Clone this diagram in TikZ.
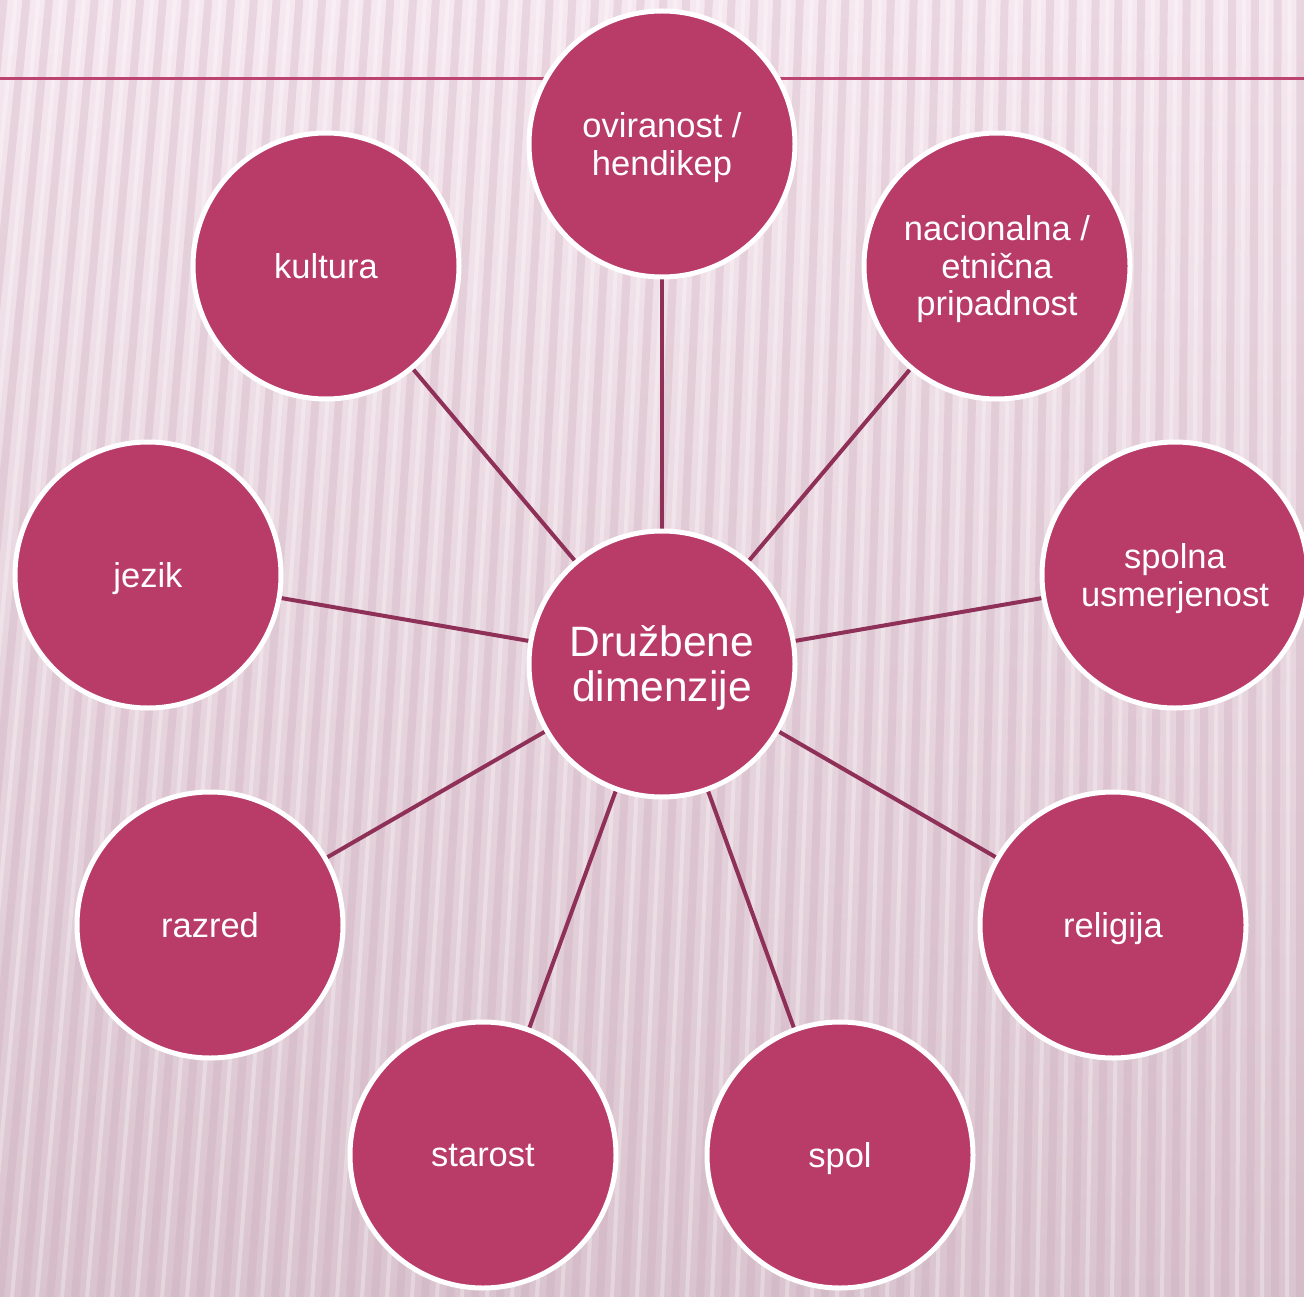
\documentclass[tikz,border=0pt]{standalone}
\usepackage{fontspec}
\setmainfont{Liberation Sans}
\definecolor{bgtop}{HTML}{F6E8EF}
\definecolor{bgmid}{HTML}{F1E0E9}
\definecolor{bgbot}{HTML}{DAC4CF}
\definecolor{stripe}{HTML}{C7A5B6}
\definecolor{circfill}{HTML}{B93C68}
\definecolor{edgecol}{HTML}{8F3059}
\definecolor{rulecol}{HTML}{BE4470}
\pgfdeclarelayer{bg}
\pgfdeclarelayer{edges}
\pgfsetlayers{bg,edges,main}
\tikzset{
  dim/.style={circle, fill=circfill, draw=white, line width=5pt, inner sep=0pt,
    minimum size=266pt, text=white, align=center, text depth=0pt,
    font=\fontsize{34.5}{37.5}\selectfont},
  hub/.style={dim, font=\fontsize{42.5}{45}\selectfont},
  link/.style={edgecol, line width=4pt},
  stripeline/.style={stripe, line width=8pt, opacity=0.28},
  hiline/.style={white, line width=4pt, opacity=0.3}
}
\begin{document}
\begin{tikzpicture}[x=1pt, y=-1pt]
\useasboundingbox (0,0) rectangle (1304,1297);
\begin{pgfonlayer}{bg}
  \shade[top color=bgtop, middle color=bgmid, bottom color=bgbot] (0,0) rectangle (1304,1297);
  \begin{scope}
    \clip (0,0) rectangle (1304,1297);
    \foreach \i in {-8,...,56} {
      \pgfmathsetmacro\bx{\i*25}
      \pgfmathsetmacro\tx{\bx+0.09*(1304-\bx)}
      \draw[stripeline] (\tx,0) -- (\bx,1297);
      \draw[hiline] (\tx+12,0) -- (\bx+12,1297);
    }
  \end{scope}
  \draw[rulecol, line width=3pt] (0,78.5) -- (1304,78.5);
\end{pgfonlayer}

\node[hub] (c) at (662,664) {Družbene\\dimenzije};
\node[dim] (ovi) at (662,144) {oviranost /\\hendikep};
\node[dim] (kul) at (326,266) {kultura};
\node[dim] (nac) at (997,266) {nacionalna /\\etnična\\pripadnost};
\node[dim] (jez) at (148,575) {jezik};
\node[dim] (spu) at (1175,575) {spolna\\usmerjenost};
\node[dim] (raz) at (210,925) {razred};
\node[dim] (rel) at (1113,925) {religija};
\node[dim] (sta) at (483,1155) {starost};
\node[dim] (spo) at (840,1155) {spol};

\begin{pgfonlayer}{edges}
  \foreach \n in {ovi,kul,nac,jez,spu,raz,rel,sta,spo}
    \draw[link] (c) -- (\n);
\end{pgfonlayer}
\end{tikzpicture}
\end{document}
